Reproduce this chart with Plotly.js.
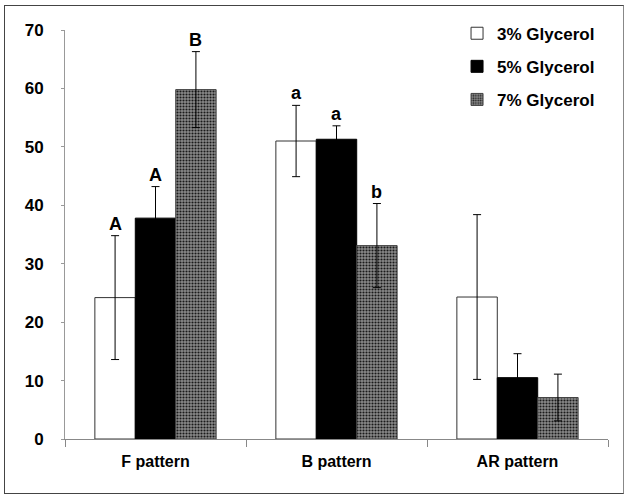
<!DOCTYPE html>
<html>
<head>
<meta charset="utf-8">
<script src="https://cdn.plot.ly/plotly-3.0.1.min.js"></script>
<style>
html,body{margin:0;padding:0;background:#fff;}
#frame{position:absolute;left:4px;top:5px;width:620px;height:489px;border:1.5px solid #444;border-right:1px solid #888;box-sizing:border-box;}
#chart{position:absolute;left:0;top:0;width:627px;height:497px;}
</style>
</head>
<body>
<div id="chart"></div>
<div id="frame"></div>
<script>
const categories = ["F pattern", "B pattern", "AR pattern"];
const seriesNames = ["3% Glycerol", "5% Glycerol", "7% Glycerol"];
const values3 = [24.2, 51.0, 24.3];
const values5 = [37.8, 51.3, 10.5];
const values7 = [59.8, 33.1, 7.1];
const err3 = [10.6, 6.1, 14.1];
const err5 = [5.4, 2.3, 4.1];
const err7 = [6.5, 7.2, 4.0];
const letters3 = ["A", "a", ""];
const letters5 = ["A", "a", ""];
const letters7 = ["B", "b", ""];
const yTicks = [0, 10, 20, 30, 40, 50, 60, 70];

const allValues = [values3, values5, values7];
const allErr = [err3, err5, err7];
const allLetters = [letters3, letters5, letters7];

const styles = [
  {color: "#ffffff", line: {color: "#333", width: 1}},
  {color: "#000000", line: {color: "#000", width: 1}},
  {color: "#666666", line: {color: "#444", width: 1},
   pattern: {shape: ".", bgcolor: "#8a8a8a", fgcolor: "#1a1a1a", size: 3, solidity: 0.4}}
];

const FONT = "Liberation Sans, Arial, sans-serif";

const traces = seriesNames.map((name, i) => ({
  type: "bar",
  name: name,
  legendgroup: "g" + i,
  x: categories,
  y: allValues[i],
  marker: styles[i],
  error_y: {type: "data", array: allErr[i], visible: true, color: "#000", thickness: 1, width: 4}
}));

const barPx = 40.3;
const annotations = [];
allLetters.forEach((arr, i) => {
  arr.forEach((t, j) => {
    if (!t) return;
    annotations.push({
      x: categories[j], y: allValues[i][j] + allErr[i][j],
      xref: "x", yref: "y", text: t, showarrow: false,
      yanchor: "bottom", xshift: (i - 1) * barPx, yshift: 0,
      font: {family: FONT, size: 18, color: "#000", weight: "bold"}
    });
  });
});

const layout = {
  width: 627, height: 497,
  margin: {l: 65, r: 19, t: 30, b: 58},
  paper_bgcolor: "#fff", plot_bgcolor: "#fff",
  barmode: "group", bargap: 0.33, bargroupgap: 0,
  showlegend: true,
  legend: {x: 0.722, y: 1.035, xanchor: "left", yanchor: "top",
    traceorder: "grouped", tracegroupgap: 8,
    font: {family: FONT, size: 17, color: "#000", weight: "bold"},
    itemwidth: 30, bgcolor: "rgba(0,0,0,0)"},
  xaxis: {type: "category", showline: true, linecolor: "#888", linewidth: 1,
    ticks: "outside", tickson: "boundaries", ticklen: 7, tickcolor: "#888",
    showgrid: false, zeroline: false,
    tickfont: {family: FONT, size: 16, color: "#000", weight: "bold"},
    ticklabelstandoff: 8},
  yaxis: {range: [0, 70], tickvals: yTicks, showline: true, linecolor: "#999", linewidth: 1,
    ticks: "outside", ticklen: 3, tickcolor: "#999", showgrid: false, zeroline: false,
    tickfont: {family: FONT, size: 17, color: "#000", weight: "bold"},
    ticklabelstandoff: 14},
  annotations: annotations
};

Plotly.newPlot("chart", traces, layout, {displayModeBar: false, staticPlot: true});
</script>
</body>
</html>
